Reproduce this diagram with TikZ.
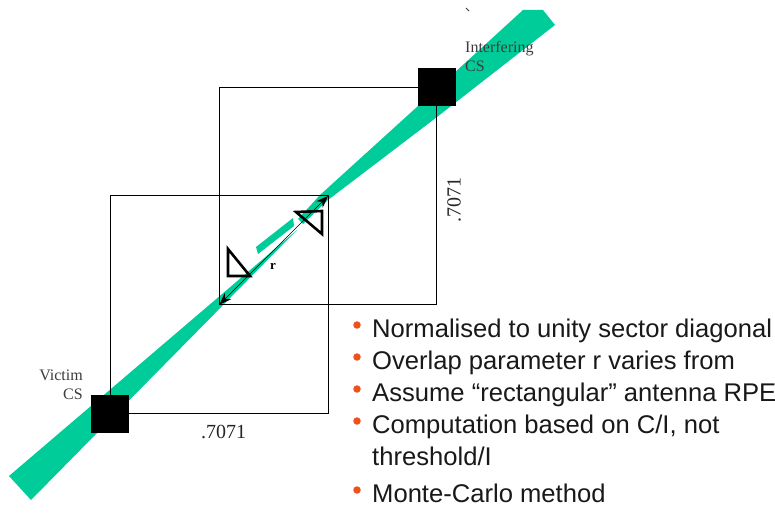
\documentclass[tikz,border=0pt]{standalone}
\usepackage{fontspec}
\setmainfont{Liberation Serif}
\newfontfamily\bulletfont{Liberation Sans}
\usetikzlibrary{arrows.meta}
\definecolor{beam}{RGB}{0,204,153}
\definecolor{bul}{RGB}{240,80,30}
\definecolor{lbl}{RGB}{60,60,60}
\begin{document}
\begin{tikzpicture}[x=1pt,y=-1pt,
 sector/.style={draw=black, line width=1.1pt, minimum size=217.5pt, inner sep=0pt},
 cs/.style={fill=black, minimum size=38pt, inner sep=0pt},
 beamfill/.style={fill=beam, draw=none},
 tri/.style={draw=black, line width=2.6pt, line join=miter},
 serifl/.style={font=\fontsize{16}{18}\selectfont, text=lbl, inner sep=0pt},
 dim/.style={font=\fontsize{20}{22}\selectfont, text=black!85, inner sep=0pt},
 bullettext/.style={font=\bulletfont\fontsize{25.6}{30}\selectfont, text=black!90, anchor=base west, inner sep=0pt},
 bulletdot/.style={circle, fill=bul, minimum size=7.5pt, inner sep=0pt},
 overlap/.style={line width=0.7pt, {Stealth[length=12pt,width=9pt]}-{Stealth[length=12pt,width=9pt]}}]
\useasboundingbox[fill=white] (0,0) rectangle (775,518);

% beams
\fill[beamfill] (9,476) -- (297,230) -- (31,500) -- cycle;
\fill[beamfill] (298,219) -- (320,195) -- (418,106) -- (523,10) -- (543,10) -- (555,25)
  -- (437,117) -- (328,200) -- (303,224) -- cycle;
\fill[beamfill] (256,247) -- (293,218) -- (294,226) -- (258,254) -- cycle;

% sectors
\node[sector] (vsec) at (219.5,304.5) {};
\node[sector] (isec) at (328,196) {};

% overlap arrow
\draw[overlap] (isec.center) -- (vsec.center);
\node[font=\bfseries\fontsize{13}{14}\selectfont, inner sep=0pt] (rlab) at (273,266) {r};

% antenna triangles
\draw[tri] (228,249) -- (228,276) -- (250,276) -- cycle;
\draw[tri] (296,212) -- (322,211) -- (322,234) -- cycle;

% cell sites
\node[cs] (victim) at (vsec.south west) {};
\node[cs] (interf) at (isec.north east) {};

% labels
\node[serifl, anchor=base west] (il1) at (465,53) {Interfering};
\node[serifl, anchor=base west] (il2) at (465,72) {CS};
\node[serifl, anchor=base east] (vl1) at (83,380) {Victim};
\node[serifl, anchor=base east] (vl2) at (83,399) {CS};
\node[dim, anchor=base] (d1) at (223.5,438) {.7071};
\node[dim, rotate=90] (d2) at (454,200) {.7071};
\draw[line width=0.9pt, lbl] (466,8) -- (469,11);

% bullets
\foreach \y/\t [count=\i] in {337/{Normalised to unity sector diagonal},
  369/{Overlap parameter r varies from},
  401/{Assume “rectangular” antenna RPE},
  433/{Computation based on C/I, not},
  502/{Monte-Carlo method}}{
  \node[bulletdot] (b\i) at (357,\y-12) {};
  \node[bullettext] (t\i) at (372,\y) {\t};
}
\node[bullettext] (t4b) at (372,465) {threshold/I};
\end{tikzpicture}
\end{document}
